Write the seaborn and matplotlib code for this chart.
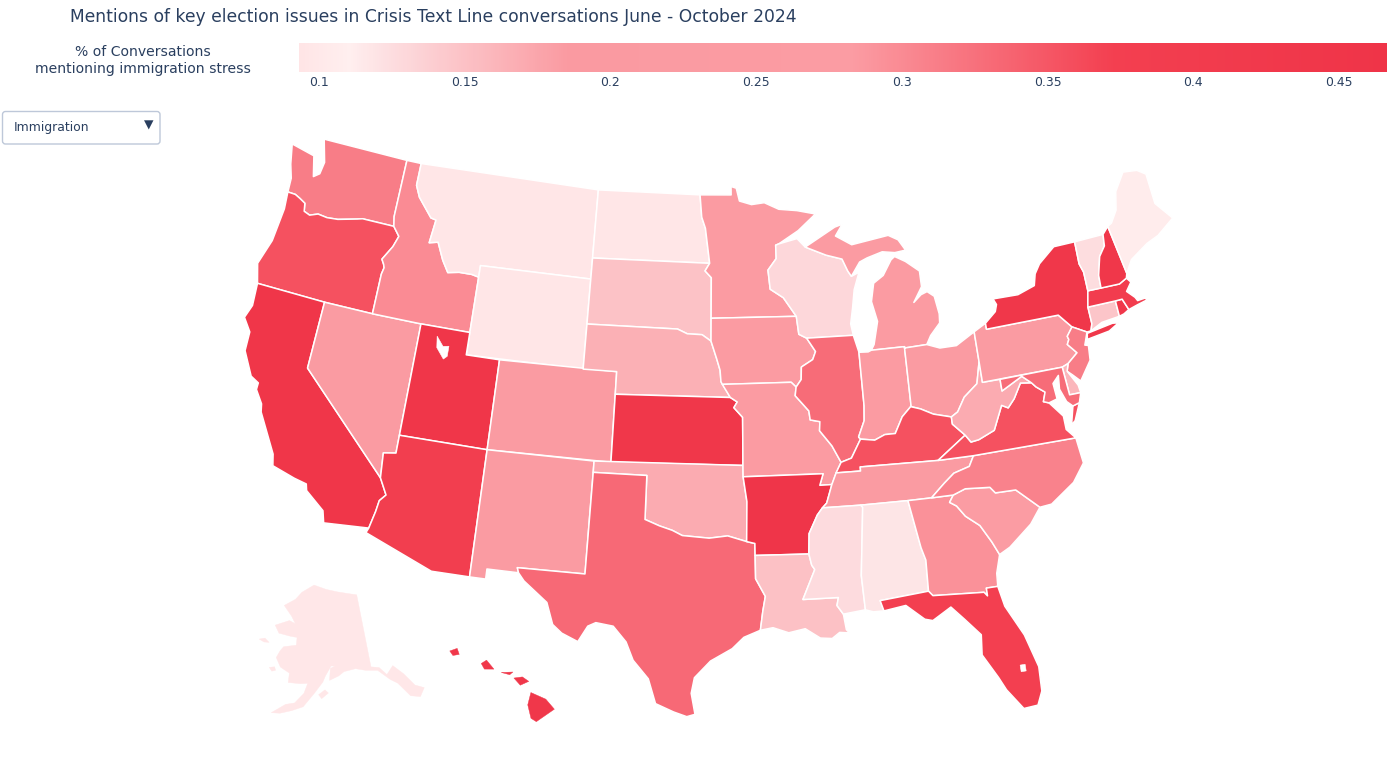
import numpy as np
import pandas as pd
import seaborn as sns
import matplotlib
matplotlib.use("Agg")
import matplotlib.pyplot as plt
from matplotlib.colors import LinearSegmentedColormap, Normalize
from matplotlib.patches import Polygon, FancyBboxPatch

# ---------- data ----------
TITLE = "Mentions of key election issues in Crisis Text Line conversations June - October 2024"
CBAR_TITLE = "% of Conversations\nmentioning immigration stress"
DROPDOWN = "Immigration"
TICKS = [0.1, 0.15, 0.2, 0.25, 0.3, 0.35, 0.4, 0.45]
TICK_LABELS = ["0.1", "0.15", "0.2", "0.25", "0.3", "0.35", "0.4", "0.45"]
ZMIN, ZMAX = 0.0931, 0.4665
SCALE_VALUES = [0.0931, 0.110, 0.12, 0.185, 0.283, 0.373, 0.4665]
SCALE_COLORS = ["#ffe5e6", "#ffefef", "#fde2e4", "#fa9aa1", "#fb9ca3", "#f33f50", "#ef3448"]

VALUES = {
    "WA": .313, "OR": .355, "CA": .45, "NV": .22, "ID": .299, "MT": .095, "WY": .095, "UT": .45,
    "AZ": .385, "CO": .22, "NM": .23, "ND": .095, "SD": .149, "NE": .166, "KS": .44, "OK": .17,
    "TX": .332, "MN": .24, "IA": .25, "MO": .24, "AR": .46, "LA": .15, "WI": .13, "IL": .33,
    "MI": .25, "IN": .24, "OH": .23, "KY": .355, "TN": .22, "MS": .126, "AL": .118, "GA": .293,
    "FL": .375, "SC": .26, "NC": .308, "VA": .355, "WV": .17, "PA": .23, "NY": .44, "NJ": .313,
    "DE": .16, "MD": .33, "CT": .147, "RI": .44, "MA": .40, "VT": .125, "NH": .44, "ME": .105,
    "AK": .097, "HI": .44,
}

# State outlines as (longitude, latitude) rings
OUTLINES = {
 "WA": [[(-124.7,48.38),(-123.1,48.15),(-122.75,47.25),(-122.4,47.45),(-122.3,48.0),(-122.75,49),(-117.03,49),(-117.04,46.42),(-116.92,45.99),(-118.98,46),(-119.3,45.93),(-120.5,45.7),(-121.2,45.65),(-121.8,45.7),(-122.3,45.55),(-122.7,45.65),(-122.8,46),(-123.2,46.15),(-123.55,46.26),(-124.05,46.27),(-124.1,46.9),(-124.4,47.5)]],
 "OR": [[(-124.05,46.27),(-123.55,46.26),(-123.2,46.15),(-122.8,46),(-122.7,45.65),(-122.3,45.55),(-121.8,45.7),(-121.2,45.65),(-120.5,45.7),(-119.3,45.93),(-118.98,46),(-116.92,45.99),(-116.47,45.6),(-116.7,45.1),(-117.2,44.45),(-117.03,44.25),(-116.95,44.1),(-117.03,43.8),(-117.03,42),(-120,42),(-124.2,42),(-124.55,42.85),(-124.1,44),(-123.95,45.5)]],
 "CA": [[(-124.2,42),(-120,42),(-120,39),(-114.63,35),(-114.15,34.3),(-114.45,34),(-114.53,33.5),(-114.72,32.72),(-117.12,32.53),(-117.3,33.05),(-118.4,33.75),(-118.5,34.03),(-119.2,34.15),(-120.5,34.45),(-120.65,34.95),(-121.9,36.6),(-122,36.95),(-122.5,37.5),(-122.5,37.8),(-123,38),(-123.75,39),(-123.8,39.85),(-124.35,40.4),(-124.1,41)]],
 "NV": [[(-120,42),(-117.03,42),(-114.04,42),(-114.05,36.2),(-114.74,36.1),(-114.63,35),(-120,39)]],
 "ID": [[(-117.03,49),(-116.05,49),(-116.05,48),(-115.7,47.5),(-114.7,46.7),(-114.35,46.65),(-114.5,45.6),(-113.95,45.7),(-113.45,44.95),(-113,44.45),(-112.3,44.55),(-111.5,44.55),(-111.05,44.48),(-111.05,42),(-114.04,42),(-117.03,42),(-117.03,43.8),(-116.95,44.1),(-117.03,44.25),(-117.2,44.45),(-116.7,45.1),(-116.47,45.6),(-116.92,45.99),(-117.04,46.42)]],
 "MT": [[(-116.05,49),(-104.05,49),(-104.05,45),(-111.05,45),(-111.05,44.48),(-111.5,44.55),(-112.3,44.55),(-113,44.45),(-113.45,44.95),(-113.95,45.7),(-114.5,45.6),(-114.35,46.65),(-114.7,46.7),(-115.7,47.5),(-116.05,48)]],
 "WY": [[(-111.05,45),(-104.05,45),(-104.05,41),(-111.05,41)]],
 "UT": [[(-114.04,42),(-111.05,42),(-111.05,41),(-109.05,41),(-109.05,37),(-114.05,37)]],
 "CO": [[(-109.05,41),(-102.05,41),(-102.05,37),(-109.05,37)]],
 "AZ": [[(-114.05,37),(-109.05,37),(-109.05,31.33),(-111.07,31.33),(-114.82,32.5),(-114.72,32.72),(-114.53,33.5),(-114.45,34),(-114.15,34.3),(-114.63,35),(-114.74,36.1),(-114.05,36.2)]],
 "NM": [[(-109.05,37),(-103,37),(-103.04,32),(-106.62,32),(-106.53,31.78),(-108.2,31.78),(-108.2,31.33),(-109.05,31.33)]],
 "ND": [[(-104.05,49),(-97.23,49),(-97.1,48),(-96.85,47.5),(-96.56,45.94),(-104.05,45.94)]],
 "SD": [[(-104.05,45.94),(-96.56,45.94),(-96.85,45.6),(-96.45,45.3),(-96.45,43.5),(-96.45,42.49),(-97,42.77),(-97.9,42.8),(-98.5,43),(-104.05,43)]],
 "NE": [[(-104.05,43),(-98.5,43),(-97.9,42.8),(-97,42.77),(-96.45,42.49),(-96.1,41.7),(-95.9,41.2),(-95.85,40.7),(-95.3,40),(-102.05,40),(-102.05,41),(-104.05,41)]],
 "KS": [[(-102.05,40),(-95.3,40),(-94.9,39.8),(-95.1,39.55),(-94.6,39.12),(-94.62,37),(-102.05,37)]],
 "OK": [[(-103,37),(-94.62,37),(-94.62,36.5),(-94.43,35.4),(-94.48,33.64),(-95.5,33.9),(-96.5,33.8),(-97.2,33.85),(-97.95,33.9),(-98.5,34.12),(-99.2,34.3),(-100,34.56),(-100,36.5),(-103,36.5)]],
 "TX": [[(-103,36.5),(-100,36.5),(-100,34.56),(-99.2,34.3),(-98.5,34.12),(-97.95,33.9),(-97.2,33.85),(-96.5,33.8),(-95.5,33.9),(-94.48,33.64),(-94.04,33.55),(-94.04,33.02),(-94.04,31.99),(-93.55,31.2),(-93.7,30.55),(-93.85,29.7),(-94.7,29.4),(-95.3,28.9),(-96.4,28.35),(-97.2,27.6),(-97.35,26.9),(-97.15,25.96),(-97.55,25.85),(-98.2,26.05),(-99.1,26.4),(-99.5,27.5),(-100.3,28.3),(-100.7,29.1),(-101.4,29.77),(-102.3,29.88),(-102.7,29.7),(-103.15,28.98),(-104,29.3),(-104.5,29.65),(-104.9,30.6),(-106.2,31.45),(-106.53,31.78),(-106.62,32),(-103.04,32)]],
 "MN": [[(-97.23,49),(-95.15,49),(-95.15,49.38),(-94.8,49.3),(-94.6,48.72),(-93.8,48.55),(-92.95,48.62),(-92,48.3),(-90.8,48.2),(-89.6,48),(-90.8,47.3),(-92.1,46.75),(-92.3,46.7),(-92.3,46.1),(-92.85,45.6),(-92.75,44.75),(-91.95,44.35),(-91.2,43.5),(-96.45,43.5),(-96.45,45.3),(-96.85,45.6),(-96.56,45.94),(-96.85,47.5),(-97.1,48)]],
 "WI": [[(-92.1,46.75),(-90.9,46.95),(-90.4,46.55),(-89.1,46.13),(-88.1,45.9),(-87.8,45.35),(-87.6,45.1),(-87.1,45.25),(-87.5,44.5),(-87.7,43.7),(-87.9,43),(-87.8,42.49),(-90.64,42.51),(-91.1,42.7),(-91.2,43.5),(-91.95,44.35),(-92.75,44.75),(-92.85,45.6),(-92.3,46.1),(-92.3,46.7)]],
 "IA": [[(-96.45,43.5),(-91.2,43.5),(-91.1,42.7),(-90.64,42.51),(-90.15,41.9),(-90.35,41.55),(-91.05,41.25),(-91.1,40.7),(-91.42,40.38),(-91.7,40.6),(-95.77,40.58),(-95.85,40.7),(-95.9,41.2),(-96.1,41.7),(-96.45,42.49)]],
 "MO": [[(-95.77,40.58),(-91.7,40.6),(-91.42,40.38),(-91.5,40),(-90.75,39.3),(-90.7,38.9),(-90.15,38.8),(-90.2,38.4),(-89.55,37.7),(-89.1,36.95),(-89.42,36.5),(-89.7,36),(-90.37,36),(-90.15,36.5),(-94.62,36.5),(-94.62,37),(-94.6,39.12),(-95.1,39.55),(-94.9,39.8),(-95.3,40)]],
 "AR": [[(-94.62,36.5),(-90.15,36.5),(-90.37,36),(-89.7,36),(-90.05,35.2),(-90.3,35),(-90.6,34.7),(-91.1,33.9),(-91.17,33),(-94.04,33.02),(-94.04,33.55),(-94.48,33.64),(-94.43,35.4)]],
 "LA": [[(-94.04,33.02),(-91.17,33),(-91.05,32.5),(-90.9,32.3),(-91.6,31),(-89.75,31),(-89.85,30.65),(-89.55,30.25),(-89.45,29.55),(-89.3,29.4),(-89.8,29.45),(-90.2,29.2),(-90.8,29.25),(-91.55,29.7),(-92.4,29.55),(-93.2,29.8),(-93.85,29.7),(-93.7,30.55),(-93.55,31.2),(-94.04,31.99)]],
 "MS": [[(-91.17,33),(-91.1,33.9),(-90.6,34.7),(-90.3,35),(-88.2,35),(-88.1,34.9),(-88.47,31.9),(-88.4,30.37),(-89.55,30.25),(-89.85,30.65),(-89.75,31),(-91.6,31),(-90.9,32.3),(-91.05,32.5)]],
 "TN": [[(-90.3,35),(-90.05,35.2),(-89.7,36),(-89.42,36.5),(-88.05,36.5),(-88.05,36.68),(-83.68,36.6),(-81.68,36.59),(-82,36.15),(-82.9,35.95),(-83.5,35.57),(-84.3,35),(-85.6,35),(-88.2,35)]],
 "KY": [[(-89.42,36.5),(-89.1,36.95),(-88.5,37.1),(-87.9,37.9),(-87.1,37.8),(-86.5,38),(-85.9,38),(-85.4,38.7),(-84.85,39.1),(-84.3,38.95),(-83.6,38.65),(-82.6,38.42),(-82.6,38.1),(-81.97,37.54),(-83.68,36.6),(-88.05,36.68),(-88.05,36.5)]],
 "IL": [[(-90.64,42.51),(-87.8,42.49),(-87.55,41.72),(-87.53,39.35),(-87.6,38.7),(-88,38),(-87.9,37.9),(-88.5,37.1),(-89.1,36.95),(-89.55,37.7),(-90.2,38.4),(-90.15,38.8),(-90.7,38.9),(-90.75,39.3),(-91.5,40),(-91.42,40.38),(-91.1,40.7),(-91.05,41.25),(-90.35,41.55),(-90.15,41.9)]],
 "IN": [[(-87.55,41.72),(-87,41.7),(-86.8,41.76),(-84.8,41.76),(-84.82,39.1),(-84.85,39.1),(-85.4,38.7),(-85.9,38),(-86.5,38),(-87.1,37.8),(-87.9,37.9),(-88,38),(-87.6,38.7),(-87.53,39.35)]],
 "OH": [[(-84.8,41.76),(-84.8,41.7),(-83.45,41.73),(-82.7,41.5),(-81.7,41.5),(-80.52,41.98),(-80.52,40.64),(-80.85,39.7),(-81.7,39.2),(-82.2,38.6),(-82.6,38.42),(-83.6,38.65),(-84.3,38.95),(-84.82,39.1)]],
 "MI": [[(-86.8,41.76),(-84.8,41.76),(-84.8,41.7),(-83.45,41.73),(-83.15,42.1),(-82.5,42.6),(-82.45,43),(-82.6,43.8),(-83,44.05),(-83.4,43.95),(-83.9,43.65),(-83.3,44.3),(-83.3,45),(-84.1,45.5),(-84.75,45.78),(-85,45.65),(-85.6,45),(-86.25,44.7),(-86.5,43.9),(-86.25,43),(-86.6,42)],
        [(-90.4,46.55),(-88.4,47.35),(-87.9,47.45),(-88.4,46.95),(-87.4,46.5),(-85,46.75),(-84.4,46.5),(-84,46),(-84.7,45.95),(-85.5,46.05),(-86.5,45.85),(-87,45.7),(-87.6,45.1),(-87.8,45.35),(-88.1,45.9),(-89.1,46.13)]],
 "AL": [[(-88.2,35),(-85.6,35),(-85.18,32.87),(-85,32.3),(-85.05,30.92),(-87.6,30.72),(-87.45,30.25),(-88,30.25),(-88.4,30.37),(-88.47,31.9),(-88.1,34.9)]],
 "GA": [[(-85.6,35),(-84.3,35),(-83.1,35),(-83.35,34.7),(-83,34.5),(-82.6,34),(-81.9,33.5),(-81.4,32.7),(-81.1,32.1),(-81.4,31.3),(-81.45,30.72),(-82.05,30.72),(-82.05,30.37),(-82.2,30.55),(-84.85,30.7),(-85.05,30.92),(-85,32.3),(-85.18,32.87)]],
 "FL": [[(-87.6,30.72),(-85.05,30.92),(-84.85,30.7),(-82.2,30.55),(-82.05,30.37),(-82.05,30.72),(-81.45,30.72),(-81.25,29.8),(-80.5,28.4),(-80.05,26.9),(-80.1,25.8),(-80.4,25.2),(-81.1,25.15),(-81.8,26.1),(-82.1,26.7),(-82.75,27.8),(-82.65,28.7),(-83.4,29.5),(-84,30.1),(-85,29.6),(-85.4,29.7),(-86.3,30.4),(-87.45,30.25)]],
 "SC": [[(-83.35,34.7),(-83.1,35),(-82.4,35.2),(-81.05,35.1),(-80.8,34.82),(-79.68,34.8),(-78.55,33.86),(-79.2,33.2),(-80.5,32.35),(-81.1,32.1),(-81.4,32.7),(-81.9,33.5),(-82.6,34),(-83,34.5)]],
 "NC": [[(-84.3,35),(-83.5,35.57),(-82.9,35.95),(-82,36.15),(-81.68,36.59),(-75.87,36.55),(-75.75,35.4),(-76.5,34.65),(-77.9,33.9),(-78.55,33.86),(-79.68,34.8),(-80.8,34.82),(-81.05,35.1),(-82.4,35.2),(-83.1,35)]],
 "VA": [[(-83.68,36.6),(-81.68,36.59),(-75.87,36.55),(-76.3,37),(-76.3,37.6),(-76.95,38.3),(-77.25,38.4),(-77.05,38.8),(-77.5,39.1),(-77.72,39.32),(-78.35,39.4),(-78.87,38.77),(-79.3,38.42),(-79.65,38.58),(-80.3,37.55),(-81.25,37.25),(-81.7,37.2),(-81.97,37.54)],
        [(-75.95,37.15),(-75.65,37.95),(-75.25,38.03),(-75.7,37.3)]],
 "WV": [[(-82.6,38.42),(-82.6,38.1),(-81.97,37.54),(-81.7,37.2),(-81.25,37.25),(-80.3,37.55),(-79.65,38.58),(-79.3,38.42),(-78.87,38.77),(-78.35,39.4),(-77.72,39.32),(-78.2,39.68),(-79.48,39.2),(-79.48,39.72),(-80.52,39.72),(-80.52,40.64),(-80.85,39.7),(-81.7,39.2),(-82.2,38.6)]],
 "PA": [[(-80.52,41.98),(-79.76,42.27),(-79.76,42),(-75.35,42),(-74.7,41.36),(-75.1,41),(-75.05,40.85),(-75.2,40.65),(-74.75,40.2),(-75.4,39.82),(-75.78,39.72),(-80.52,39.72)]],
 "NY": [[(-79.76,42.27),(-79.05,42.7),(-78.9,43),(-79.05,43.27),(-77.5,43.25),(-76.4,43.5),(-76.2,44),(-75.8,44.4),(-74.7,45),(-73.35,45),(-73.4,44),(-73.25,43.6),(-73.27,42.75),(-73.5,42.05),(-73.5,41.3),(-73.65,41),(-73.9,40.99),(-74.7,41.36),(-75.35,42),(-79.76,42)],
        [(-73.98,40.67),(-73.9,40.93),(-72.3,41.1),(-71.95,41.05),(-72.6,40.8)]],
 "NJ": [[(-74.7,41.36),(-73.9,40.99),(-74.2,40.45),(-74,40.4),(-74.1,39.75),(-74.9,38.95),(-75.3,39.3),(-75.55,39.5),(-75.4,39.82),(-74.75,40.2),(-75.2,40.65),(-75.05,40.85),(-75.1,41)]],
 "DE": [[(-75.78,39.72),(-75.4,39.82),(-75.55,39.5),(-75.1,38.8),(-75.05,38.45),(-75.7,38.46)]],
 "MD": [[(-79.48,39.72),(-75.78,39.72),(-75.7,38.46),(-75.05,38.45),(-75.25,38.03),(-75.65,37.95),(-75.95,38.2),(-76.2,38.8),(-76.1,39.4),(-76.5,39.1),(-76.45,38.4),(-76.95,38.3),(-77.25,38.4),(-77.05,38.8),(-77.5,39.1),(-77.72,39.32),(-78.2,39.68),(-79.48,39.2)]],
 "CT": [[(-73.5,42.05),(-71.8,42.02),(-71.8,41.32),(-72.9,41.25),(-73.65,41),(-73.5,41.3)]],
 "RI": [[(-71.8,42.02),(-71.38,42.02),(-71.15,41.5),(-71.5,41.37),(-71.8,41.32)]],
 "MA": [[(-73.5,42.05),(-73.27,42.75),(-71.3,42.7),(-70.8,42.87),(-70.6,42.65),(-71,42.3),(-70.6,41.95),(-70.5,41.78),(-70.05,41.8),(-70.2,42.07),(-69.95,41.7),(-70.6,41.6),(-71.15,41.5),(-71.38,42.02),(-71.8,42.02)]],
 "NH": [[(-72.45,42.73),(-71.3,42.7),(-70.8,42.87),(-70.7,43.07),(-71.08,45.3),(-71.5,45.01),(-71.6,44.5),(-72.05,44.1),(-72.4,43.3)]],
 "VT": [[(-73.35,45),(-71.5,45.01),(-71.6,44.5),(-72.05,44.1),(-72.4,43.3),(-72.45,42.73),(-73.27,42.75),(-73.25,43.6),(-73.4,44)]],
 "ME": [[(-71.08,45.3),(-70.7,43.07),(-70.2,43.6),(-69,44.1),(-68.2,44.3),(-67,44.85),(-67.8,45.7),(-67.8,47.07),(-68.3,47.35),(-69.2,47.45),(-70,46.7),(-70.3,45.9),(-70.8,45.4)]],
 "AK": [[(-141,69.65),(-141,60.3),(-139,60),(-137.5,58.9),(-135.5,59.8),(-133.5,58.4),(-131.8,56.6),(-130,55.9),(-131.5,55),(-133.5,55.5),(-135.5,57.5),(-137,58.2),(-139.5,59.7),(-142.5,60),(-145,60.4),(-148,60.2),(-149.5,59.7),(-151.8,59.2),(-151.5,60.7),(-150.2,61),(-151.3,61),(-152.8,59.8),(-153.5,59),(-155.5,57.6),(-158,55.8),(-160.5,55.2),(-163,54.7),(-164.9,54.6),(-162,55.9),(-160,56.2),(-158,57.5),(-157.2,58.8),(-159,58.7),(-162,58.7),(-162,59.9),(-164.5,60.5),(-166,61.6),(-165.3,62.5),(-164.5,63.1),(-161,63.5),(-161,64.5),(-163,64.55),(-166.5,64.7),(-168.1,65.6),(-164,66.5),(-162,66.2),(-163.5,67.1),(-166.5,68.3),(-163,69.3),(-161,70.3),(-156.6,71.35),(-152,70.8),(-148,70.4),(-144,70)],
        [(-154.5,57.4),(-153,58),(-152.2,57.6),(-153.8,56.9)],
        [(-171.7,63.4),(-170.2,63.7),(-168.8,63.3),(-170.2,63.2)],
        [(-167.3,60.2),(-166,60.4),(-165.6,60),(-166.5,59.8)]],
 "HI": [[(-155.9,20.25),(-155.2,19.95),(-154.8,19.5),(-155.65,18.95),(-155.9,19.1),(-156.05,19.7)],
        [(-156.7,20.9),(-156.3,20.95),(-156,20.75),(-156.4,20.58)],
        [(-157.3,21.15),(-156.75,21.17),(-156.9,21.05)],
        [(-158.25,21.55),(-158,21.7),(-157.65,21.3),(-158.1,21.3)],
        [(-159.75,22.1),(-159.4,22.22),(-159.3,21.95),(-159.6,21.9)]],
}
LAKES = [[(-112.95,41.6),(-112.5,41.2),(-112.15,41.25),(-112.15,40.8),(-112.35,40.65),(-112.85,41.1)],
         [(-80.95,27.1),(-80.7,27.1),(-80.7,26.8),(-80.95,26.8)]]


# ---------- d3-style Albers USA projection ----------
K, TX, TY = 1288.0, 708.0, 427.0

def conic(lon, lat, rot, center, par, k, tx, ty):
    sy0, sy1 = np.sin(np.radians(par[0])), np.sin(np.radians(par[1]))
    n = (sy0 + sy1) / 2
    c = 1 + sy0 * (2 * n - sy0)
    r0 = np.sqrt(c) / n
    def raw(lo, la):
        r = np.sqrt(c - 2 * n * np.sin(np.radians(la))) / n
        t = n * np.radians(lo + rot)
        return r * np.sin(t), r0 - r * np.cos(t)
    cx, cy = raw(center[0] - rot, center[1])
    x, y = raw(np.asarray(lon), np.asarray(lat))
    return tx + k * (x - cx), ty - k * (y - cy)

def project(state, ring):
    lon, lat = np.array(ring).T
    if state == "AK":
        return conic(lon, lat, 154, (-2, 58.5), (55, 65), K * 0.35, TX - .307 * K, TY + .201 * K)
    if state == "HI":
        return conic(lon, lat, 157, (-3, 19.9), (8, 18), K, TX - .205 * K, TY + .212 * K)
    return conic(lon, lat, 96, (-0.6, 38.7), (29.5, 45.5), K, TX, TY)


# ---------- drawing ----------
sns.set_theme(style="white")
plt.rcParams["font.family"] = ["DejaVu Sans"]
INK = "#2a3f5f"
W, H = 1397, 760
fig = plt.figure(figsize=(W / 100, H / 100), dpi=100, facecolor="white")
ax = fig.add_axes([0, 0, 1, 1])
ax.set_xlim(0, W)
ax.set_ylim(H, 0)
ax.axis("off")

stops = [(v - ZMIN) / (ZMAX - ZMIN) for v in SCALE_VALUES]
cmap = LinearSegmentedColormap.from_list("issue", list(zip(stops, SCALE_COLORS)), N=512)
norm = Normalize(ZMIN, ZMAX)

frame = pd.DataFrame({"state": list(VALUES), "value": list(VALUES.values())})
for row in frame.itertuples():
    edge = cmap(norm(row.value)) if row.state in ("AK", "HI") else "white"
    lw = 0.3 if row.state in ("AK", "HI") else 1.1
    for ring in OUTLINES[row.state]:
        x, y = project(row.state, ring)
        ax.add_patch(Polygon(np.c_[x, y], closed=True, facecolor=cmap(norm(row.value)),
                             edgecolor=edge, linewidth=lw, joinstyle="round"))
for ring in LAKES:
    x, y = project("UT", ring)
    ax.add_patch(Polygon(np.c_[x, y], closed=True, facecolor="white", edgecolor="white", linewidth=0.4))

# colour bar
cax = fig.add_axes([299 / W, 1 - 72 / H, (1387 - 299) / W, 29 / H])
grad = np.linspace(ZMIN, ZMAX, 544)
sns.heatmap(pd.DataFrame([grad]), ax=cax, cmap=cmap, vmin=ZMIN, vmax=ZMAX, cbar=False,
            xticklabels=False, yticklabels=False)
cax.set_xlabel("")
cax.set_ylabel("")
cax.set_xticks([(t - ZMIN) / (ZMAX - ZMIN) * len(grad) for t in TICKS])
cax.set_xticklabels(TICK_LABELS, fontsize=8.9, color=INK)
cax.tick_params(axis="x", length=0, pad=3)

# texts
ax.text(70, 17, TITLE, fontsize=12.3, color=INK, va="center", ha="left")
ax.text(143, 60.5, CBAR_TITLE, fontsize=10.1, color=INK, va="center", ha="center", linespacing=1.28)

# dropdown
ax.add_patch(FancyBboxPatch((2.5, 111.5), 157.5, 32.5, boxstyle="round,pad=0,rounding_size=3",
                            facecolor="white", edgecolor="#bec8d9", linewidth=1))
ax.text(14, 127, DROPDOWN, fontsize=8.9, color=INK, va="center", ha="left")
ax.text(149, 125, "\u25BC", fontsize=8.9, color=INK, va="center", ha="center")

fig.savefig("out.png", dpi=100, facecolor="white")
